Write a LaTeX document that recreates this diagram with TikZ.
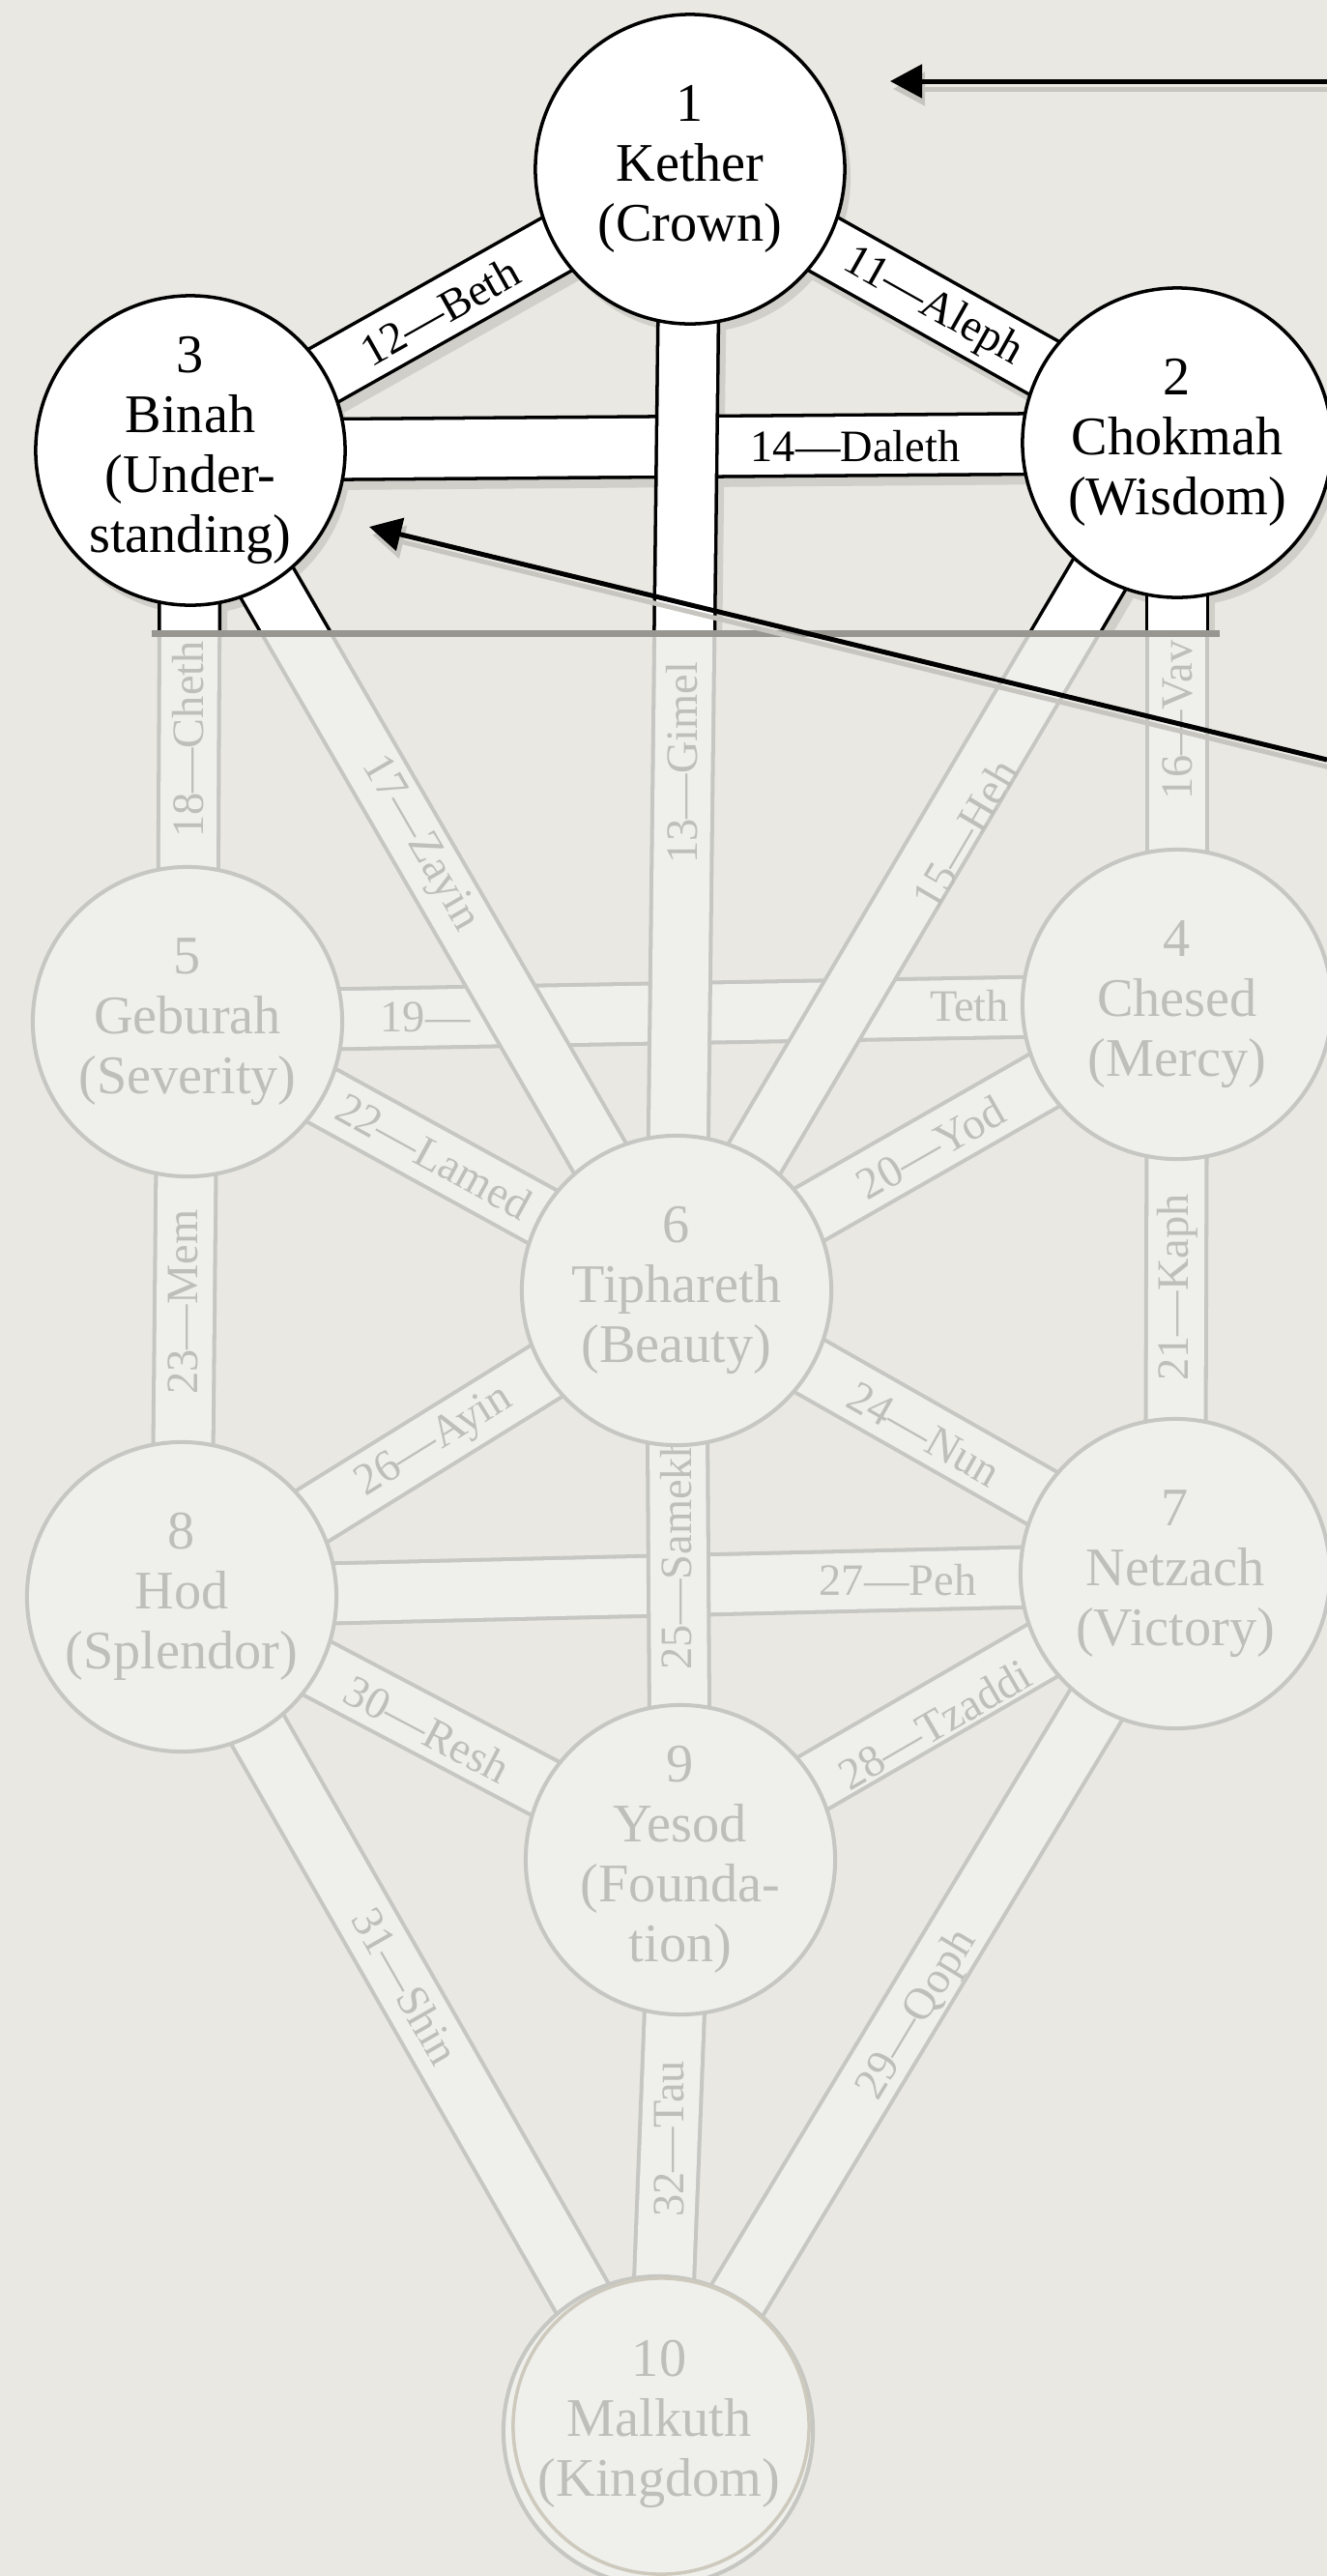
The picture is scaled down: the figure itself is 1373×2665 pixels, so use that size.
\documentclass[tikz,border=0pt]{standalone}
\usepackage{fontspec}
\setmainfont{Liberation Serif}
\usetikzlibrary{arrows.meta}
\definecolor{bgc}{RGB}{233,232,226}
\definecolor{ffill}{RGB}{239,239,235}
\definecolor{fline}{RGB}{198,199,194}
\definecolor{ftext}{RGB}{190,190,186}
\definecolor{sepc}{RGB}{152,150,144}
\definecolor{ringc}{RGB}{205,201,189}
\definecolor{shad}{RGB}{208,207,201}
\definecolor{ashad}{RGB}{198,197,191}
\pgfdeclarelayer{bg0}
\pgfdeclarelayer{fA}
\pgfdeclarelayer{fB}
\pgfdeclarelayer{fC}
\pgfdeclarelayer{fD}
\pgfdeclarelayer{hS}
\pgfdeclarelayer{hA}
\pgfdeclarelayer{hB}
\pgfdeclarelayer{hC}
\pgfdeclarelayer{hD}
\pgfdeclarelayer{lb}
\pgfdeclarelayer{fg}
\pgfsetlayers{bg0,fA,fB,fC,fD,hS,hA,hB,hC,hD,lb,main,fg}
\tikzset{
  sef/.style={circle, minimum size=3.2cm, inner sep=0pt},
  fcirc/.style={sef, draw=fline, fill=ffill, line width=1.15pt},
  hcirc/.style={sef, draw=black, fill=white, line width=1pt},
  ftxt/.style={text=ftext, align=center, inner sep=0pt, font=\fontsize{16}{17.6}\selectfont},
  htxt/.style={ftxt, text=black},
  flbl/.style={text=ftext, inner sep=0pt, font=\fontsize{13.2}{14}\selectfont},
  hlbl/.style={flbl, text=black},
  fout/.style={draw=fline, line width=18.8pt},
  fin/.style={draw=ffill, line width=16.5pt},
  hout/.style={draw=black, line width=18.8pt},
  hin/.style={draw=white, line width=16.8pt},
  arr/.style={line width=1.42pt, -{Triangle[length=9.4pt,width=9.7pt]}},
}
\begin{document}
\begin{tikzpicture}[x=0.01cm,y=-0.01cm]
\begin{pgfonlayer}{bg0}
\fill[bgc] (0,0) rectangle (1373,2665);
\end{pgfonlayer}
\useasboundingbox (0,0) rectangle (1373,2665);

% sephiroth
\node[fcirc] (c4) at (1218,1039) {};
\node[fcirc] (c5) at (194,1057) {};
\node[fcirc] (c6) at (700,1335) {};
\node[fcirc] (c7) at (1216,1628) {};
\node[fcirc] (c8) at (188,1652) {};
\node[fcirc] (c9) at (704,1924) {};
\node[fcirc] (c10) at (681,2515) {};
\node[circle, draw=ringc, line width=1pt, minimum size=3.06cm, inner sep=0pt] (ring) at (684,2510) {};
\node[hcirc] (c1) at (714,175) {};
\node[hcirc] (c2) at (1218,458) {};
\node[hcirc] (c3) at (197,466) {};

\node[htxt] (t1) at (c1) {1\\Kether\\(Crown)};
\node[htxt] (t2) at (c2) {2\\Chokmah\\(Wisdom)};
\node[htxt] (t3) at (c3) {3\\Binah\\(Under-\\standing)};
\node[ftxt] (t4) at (c4) {4\\Chesed\\(Mercy)};
\node[ftxt] (t5) at (c5) {5\\Geburah\\(Severity)};
\node[ftxt] (t6) at (c6) {6\\Tiphareth\\(Beauty)};
\node[ftxt] (t7) at (c7) {7\\Netzach\\(Victory)};
\node[ftxt] (t8) at (c8) {8\\Hod\\(Splendor)};
\node[ftxt] (t9) at (c9) {9\\Yesod\\(Founda-\\tion)};
\node[ftxt] (t10) at (682,2508) {10\\Malkuth\\(Kingdom)};

% faded paths
\begin{pgfonlayer}{fA}
\foreach \a/\b in {c3/c2,c5/c4,c8/c7} \draw[fout] (\a.center) -- (\b.center);
\end{pgfonlayer}
\begin{pgfonlayer}{fB}
\foreach \a/\b in {c3/c2,c5/c4,c8/c7} \draw[fin] (\a.center) -- (\b.center);
\end{pgfonlayer}
\begin{pgfonlayer}{fC}
\foreach \a/\b in {c1/c2,c1/c3,c1/c6,c2/c6,c2/c4,c3/c6,c3/c5,c4/c6,c4/c7,c5/c6,c5/c8,c6/c7,c6/c9,c6/c8,c7/c9,c7/c10,c8/c9,c8/c10,c9/c10}
  \draw[fout] (\a.center) -- (\b.center);
\end{pgfonlayer}
\begin{pgfonlayer}{fD}
\foreach \a/\b in {c1/c2,c1/c3,c1/c6,c2/c6,c2/c4,c3/c6,c3/c5,c4/c6,c4/c7,c5/c6,c5/c8,c6/c7,c6/c9,c6/c8,c7/c9,c7/c10,c8/c9,c8/c10,c9/c10}
  \draw[fin] (\a.center) -- (\b.center);
\end{pgfonlayer}

% highlighted upper part
\begin{pgfonlayer}{hS}
\begin{scope}
\clip (0,0) rectangle (1373,655);
\foreach \a/\b in {c3/c2,c1/c2,c1/c3,c1/c6,c2/c6,c2/c4,c3/c6,c3/c5}
  \draw[shad, line width=18.8pt] ([shift={(6,9)}]\a.center) -- ([shift={(6,9)}]\b.center);
\foreach \a in {c1,c2,c3} \fill[shad] ([shift={(6,9)}]\a.center) circle[radius=1.6cm];
\end{scope}
\end{pgfonlayer}
\begin{pgfonlayer}{hA}
\begin{scope}
\clip (0,0) rectangle (1373,655);
\draw[hout] (c3.center) -- (c2.center);
\end{scope}
\end{pgfonlayer}
\begin{pgfonlayer}{hB}
\begin{scope}
\clip (0,0) rectangle (1373,655);
\draw[hin] (c3.center) -- (c2.center);
\end{scope}
\end{pgfonlayer}
\begin{pgfonlayer}{hC}
\begin{scope}
\clip (0,0) rectangle (1373,655);
\foreach \a/\b in {c1/c2,c1/c3,c1/c6,c2/c6,c2/c4,c3/c6,c3/c5} \draw[hout] (\a.center) -- (\b.center);
\end{scope}
\end{pgfonlayer}
\begin{pgfonlayer}{hD}
\begin{scope}
\clip (0,0) rectangle (1373,655);
\foreach \a/\b in {c1/c2,c1/c3,c1/c6,c2/c6,c2/c4,c3/c6,c3/c5} \draw[hin] (\a.center) -- (\b.center);
\end{scope}
\end{pgfonlayer}

% path labels
\begin{pgfonlayer}{lb}
\node[hlbl, rotate=29.4] (l12) at (455,322) {12---Beth};
\node[hlbl, rotate=-29.4] (l11) at (965,318) {11---Aleph};
\node[hlbl] (l14) at (885,462) {14---Daleth};
\node[flbl, rotate=90] (l13) at (706,789) {13---Gimel};
\node[flbl, rotate=90] (l18) at (195,765) {18---Cheth};
\node[flbl, rotate=-59.9] (l17) at (434,873) {17---Zayin};
\node[flbl, rotate=59.5] (l15) at (998,863) {15---Heh};
\node[flbl, rotate=90] (l16) at (1218,745) {16---Vav};
\node[flbl] (l19a) at (440,1052) {19---};
\node[flbl] (l19b) at (1003,1041) {Teth};
\node[flbl, rotate=-28.8] (l22) at (449,1196) {22---Lamed};
\node[flbl, rotate=29.8] (l20) at (963,1187) {20---Yod};
\node[flbl, rotate=90] (l21) at (1218,1332) {21---Kaph};
\node[flbl, rotate=90] (l23) at (189,1347) {23---Mem};
\node[flbl, rotate=31.8] (l26) at (450,1492) {26---Ayin};
\node[flbl, rotate=-29.6] (l24) at (956,1484) {24---Nun};
\node[flbl, rotate=90] (l25) at (700,1606) {25---Samekh};
\node[flbl] (l27) at (929,1635) {27---Peh};
\node[flbl, rotate=30.1] (l28) at (967,1784) {28---Tzaddi};
\node[flbl, rotate=-27.8] (l30) at (442,1789) {30---Resh};
\node[flbl, rotate=-60.2] (l31) at (420,2055) {31---Shin};
\node[flbl, rotate=58.9] (l29) at (950,2085) {29---Qoph};
\node[flbl, rotate=90] (l32) at (692,2213) {32---Tau};
\end{pgfonlayer}

% separator and arrows
\begin{pgfonlayer}{fg}
\draw[sepc, line width=2pt] (157,655) -- (1262,655);
\coordinate (a1s) at (1373,84);
\coordinate (a1e) at (921,84);
\coordinate (a2s) at (1373,786);
\coordinate (a2e) at (382,545);
\draw[arr, ashad] ([shift={(3,8)}]a1s) -- ([shift={(3,8)}]a1e);
\draw[arr, ashad] ([shift={(3,8)}]a2s) -- ([shift={(3,8)}]a2e);
\draw[arr, black] (a1s) -- (a1e);
\draw[arr, black] (a2s) -- (a2e);
\end{pgfonlayer}
\end{tikzpicture}
\end{document}
